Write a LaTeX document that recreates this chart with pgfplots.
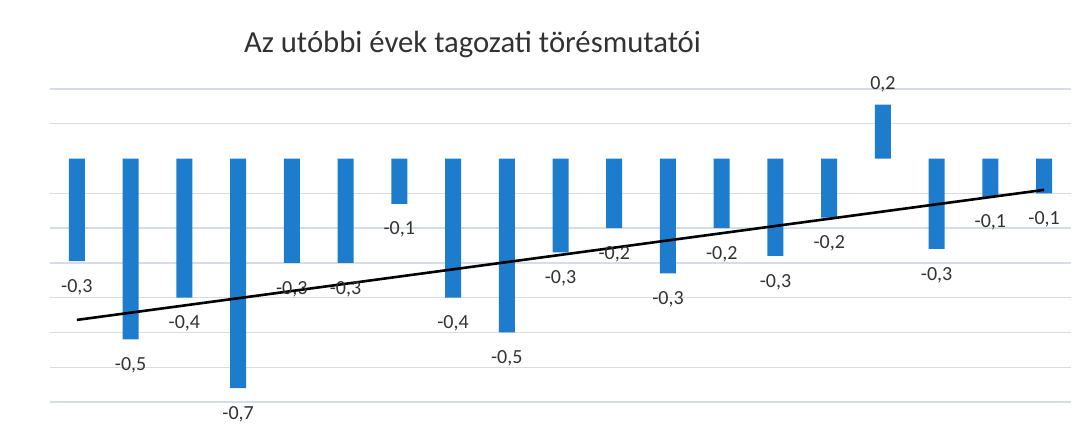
\documentclass[border=0pt]{standalone}
\usepackage{fontspec}
\setmainfont{Carlito}
\usepackage{pgfplots}
\pgfplotsset{compat=1.18}
\definecolor{barblue}{RGB}{30,124,204}
\definecolor{gridc}{RGB}{216,220,230}
\definecolor{txt}{RGB}{50,50,50}

\begin{document}
\begin{tikzpicture}
\begin{axis}[
    scale only axis,
    width=1021pt,
    height=313pt,
    xmin=0.5, xmax=19.5,
    ymin=-0.7, ymax=0.2,
    xtick=\empty,
    ytick={-0.7,-0.6,-0.5,-0.4,-0.3,-0.2,-0.1,0.1,0.2},
    yticklabels={},
    major tick length=0pt,
    ymajorgrids,
    grid style={gridc, line width=1.4pt},
    axis line style={draw=none},
    clip=false,
    title={Az utóbbi évek tagozati törésmutatói},
    title style={at={(rel axis cs:0.4138,1.122)}, anchor=center,
        font=\fontsize{30.7}{34}\selectfont, text=txt},
    /pgf/number format/.cd, fixed, precision=1, use comma, assume math mode=true
]
% tagozati törésmutatók
\addplot[ybar, bar width=16pt, fill=barblue, draw=none,
    nodes near coords,
    nodes near coords align={vertical},
    every node near coord/.append style={font=\fontsize{20}{22}\selectfont,
        text=txt, inner ysep=15pt, inner xsep=0pt, yshift=-3pt}]
coordinates {
    (1, -0.295)
    (2, -0.52)
    (3, -0.40)
    (4, -0.66)
    (5, -0.30)
    (6, -0.30)
    (7, -0.13)
    (8, -0.40)
    (9, -0.50)
    (10, -0.27)
    (11, -0.20)
    (12, -0.33)
    (13, -0.20)
    (14, -0.28)
    (15, -0.17)
    (16, 0.155)
    (17, -0.26)
    (18, -0.11)
    (19, -0.10)
};
% lineáris trendvonal
\addplot[black, line width=2.6pt] coordinates {
    (1, -0.464)
    (19, -0.090)
};
\coordinate (bl) at (rel axis cs:-0.04897,-0.08946);
\coordinate (tr) at (rel axis cs:1.01371,1.28435);
\end{axis}
\path (bl) rectangle (tr);
\end{tikzpicture}
\end{document}
